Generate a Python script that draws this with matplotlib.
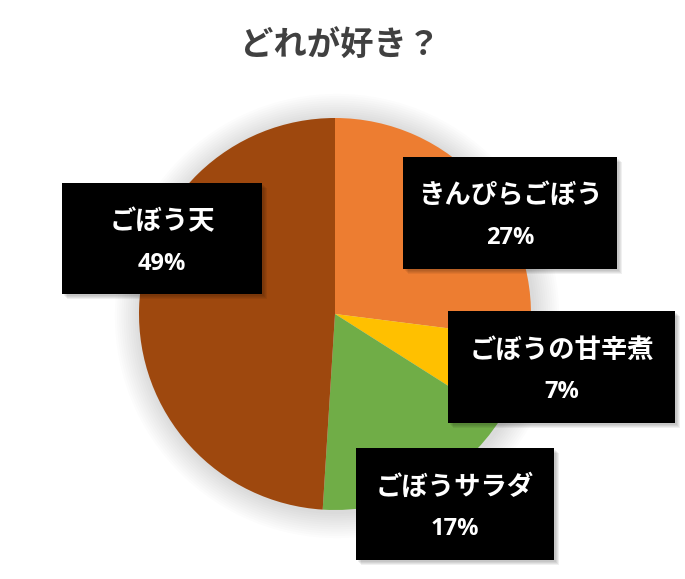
import matplotlib.pyplot as plt
from matplotlib.patches import Rectangle, Circle

plt.rcParams['font.family'] = ['Noto Sans CJK JP', 'DejaVu Sans']

labels = ['きんぴらごぼう', 'ごぼうの甘辛煮', 'ごぼうサラダ', 'ごぼう天']
shares = [27, 7, 17, 49]
colors = ['#ED7D31', '#FFC000', '#70AD47', '#9E480E']

W, H = 685, 579
fig = plt.figure(figsize=(W / 100, H / 100), dpi=100)
ax = fig.add_axes([0, 0, 1, 1])
ax.set_xlim(0, W)
ax.set_ylim(0, H)
ax.set_aspect('equal')
ax.axis('off')

cx, cy, r = 335, H - 314, 196

# soft glow behind the pie
for i in range(12):
    ax.add_patch(Circle((cx + 2, cy - 2), r + 2 + i * 2.2, color='black',
                        alpha=0.012, lw=0, zorder=1))

ax.pie(shares, colors=colors, startangle=90, counterclock=False,
       center=(cx, cy), radius=r, frame=True,
       wedgeprops=dict(linewidth=0, zorder=2))
ax.set_xlim(0, W)
ax.set_ylim(0, H)
ax.axis('off')

# label boxes (left, top, right, bottom in pixels)
boxes = [(403, 157, 617, 269), (448, 311, 675, 423),
         (356, 448, 554, 560), (62, 183, 262, 294)]

for (x0, y0, x1, y1), name, v in zip(boxes, labels, shares):
    w, h = x1 - x0, y1 - y0
    for k in range(4):
        ax.add_patch(Rectangle((x0 + 2 + k, H - y1 - 2 - k), w, h,
                               color='black', alpha=0.06, lw=0, zorder=5))
    ax.add_patch(Rectangle((x0, H - y1), w, h, color='black', lw=0, zorder=6))
    xm = (x0 + x1) / 2
    ax.text(xm, H - (y0 + 39), name, color='white', fontsize=19,
            fontweight='bold', ha='center', va='center', zorder=7)
    ax.text(xm, H - (y0 + 81), f'{v}%', color='white', fontsize=17,
            fontweight='bold', ha='center', va='center', zorder=7,
            family=['Open Sans', 'DejaVu Sans'])

ax.text(340, H - 45, 'どれが好き？', color='#404040', fontsize=24,
        fontweight='bold', ha='center', va='center')

fig.savefig('out.png', dpi=100)
